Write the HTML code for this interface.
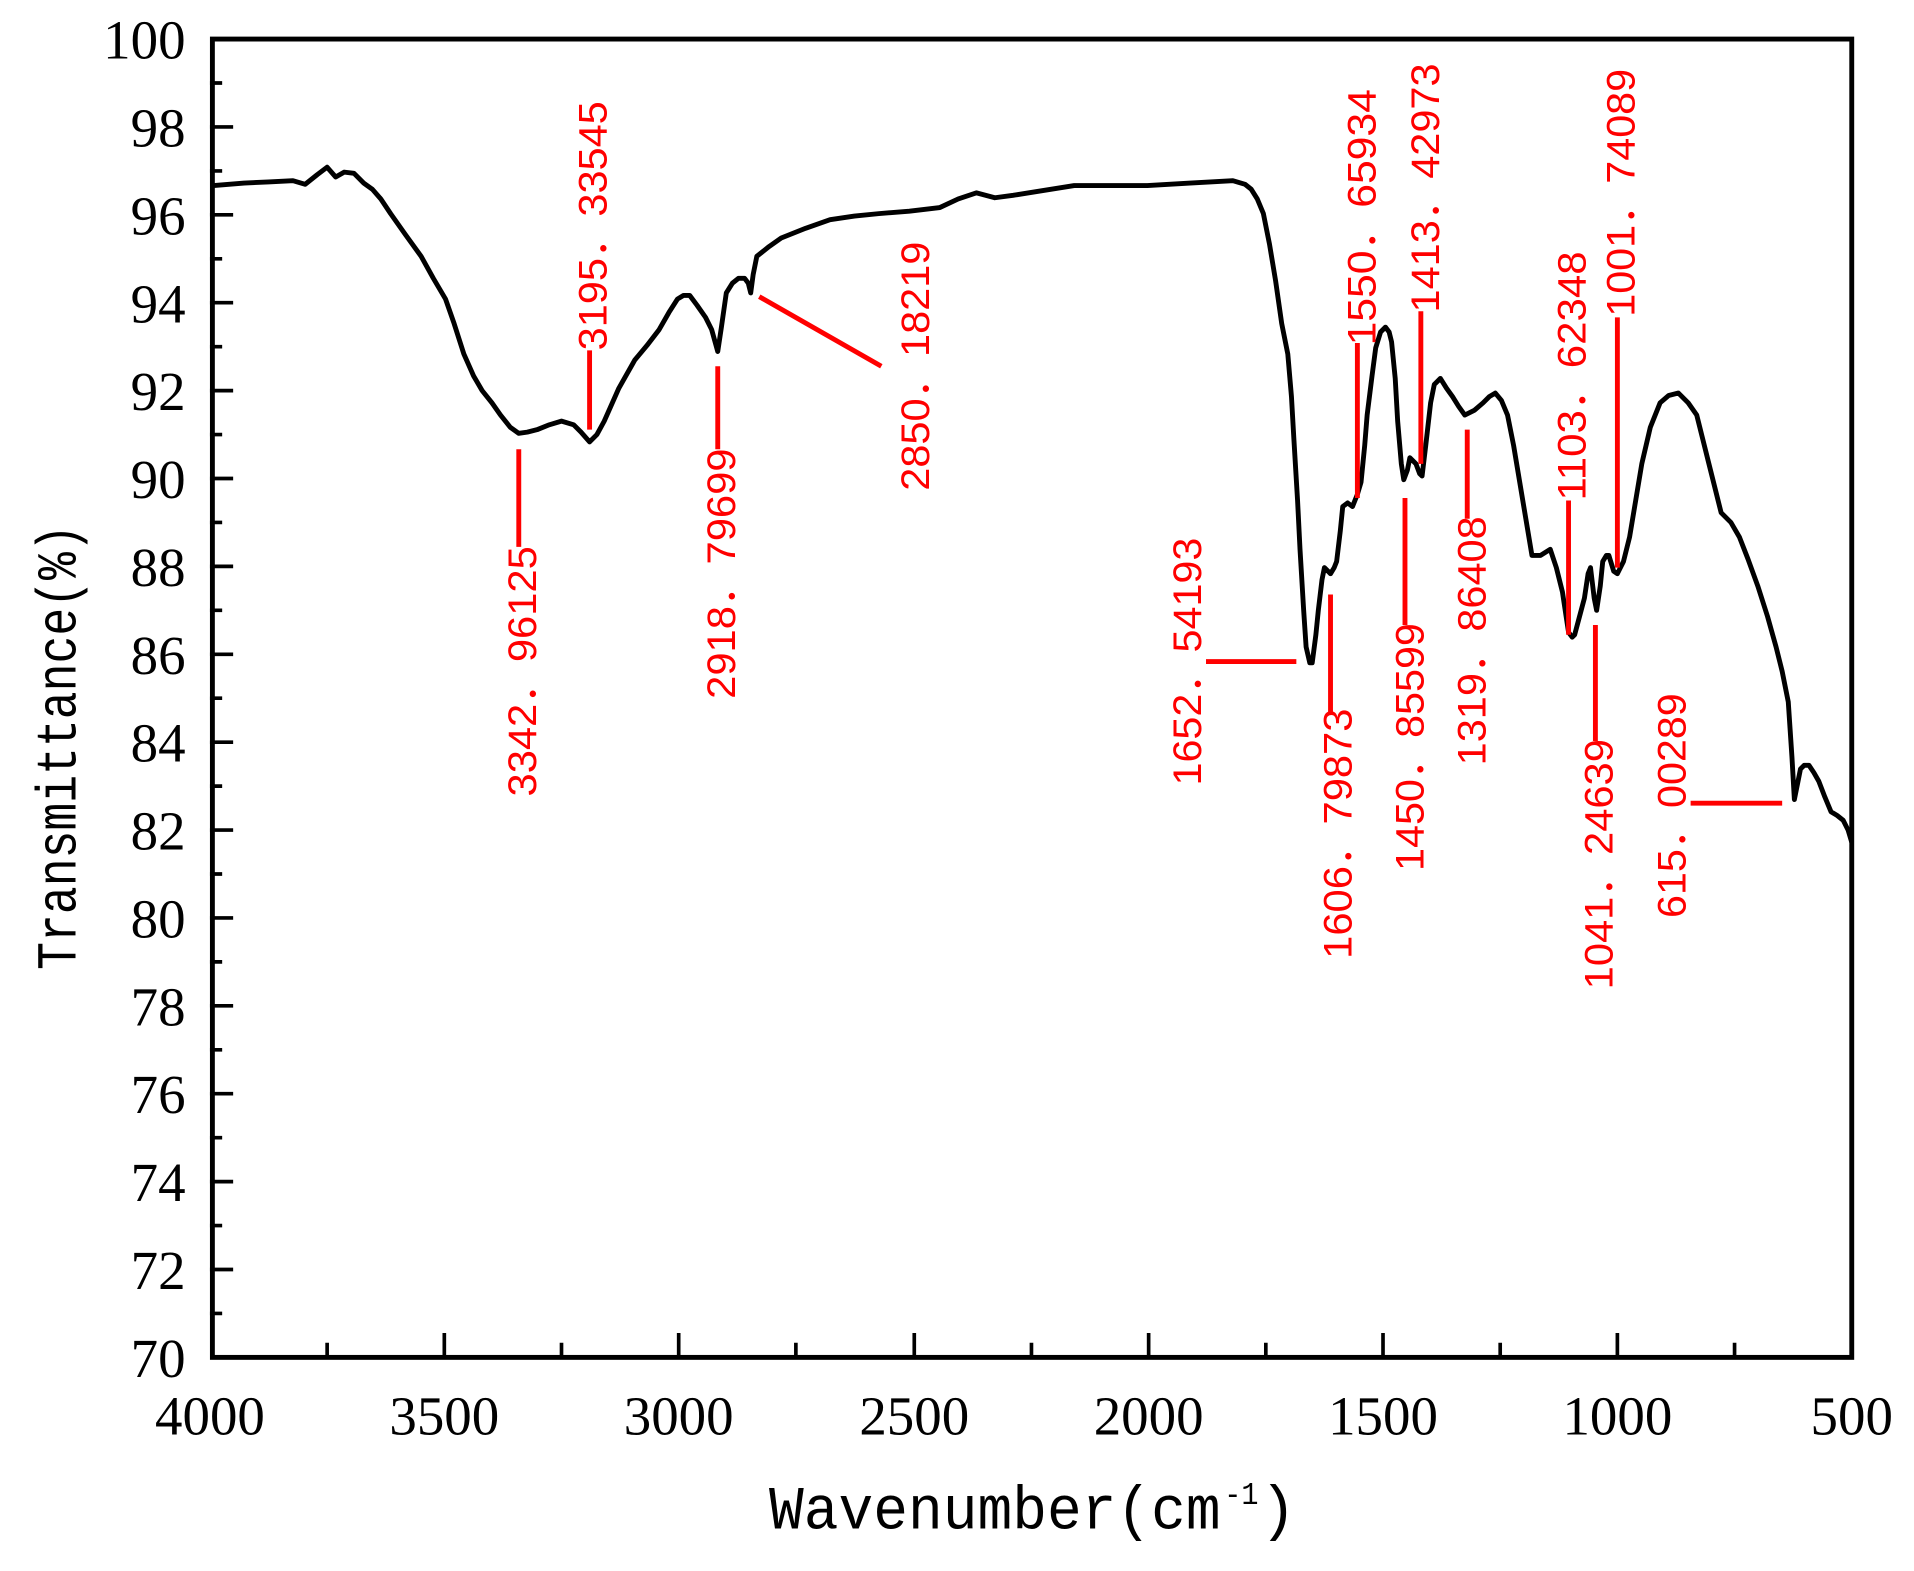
<!DOCTYPE html>
<html><head><meta charset="utf-8"><style>html,body{margin:0;padding:0;background:#fff}svg{display:block}</style></head>
<body>
<svg width="1914" height="1571" viewBox="0 0 1568 1287" preserveAspectRatio="none" xmlns="http://www.w3.org/2000/svg">
<rect width="1568" height="1287" fill="#fff"/>
<g stroke="#000" stroke-width="3">
<path d="M172 68H182M172 140H182M172 212H182M172 284H182M172 356H182M172 428H182M172 500H182M172 572H182M172 644H182M172 716H182M172 788H182M172 860H182M172 932H182M172 1004H182M172 1076H182"/>
<path d="M172 104H191M172 176H191M172 248H191M172 320H191M172 392H191M172 464H191M172 536H191M172 608H191M172 680H191M172 752H191M172 824H191M172 896H191M172 968H191M172 1040H191"/>
<path d="M364 1112V1092M556 1112V1092M749 1112V1092M941 1112V1092M1133 1112V1092M1325 1112V1092"/>
<path d="M268 1112V1100M460 1112V1100M652 1112V1100M845 1112V1100M1037 1112V1100M1229 1112V1100M1421 1112V1100"/>
</g>
<rect x="174" y="32" width="1343" height="1080" fill="none" stroke="#000" stroke-width="4"/>
<g font-family="Liberation Serif, serif" font-size="45" fill="#000" text-anchor="end">
<text x="152" y="48">100</text><text x="152" y="120">98</text><text x="152" y="192">96</text><text x="152" y="264">94</text><text x="152" y="336">92</text><text x="152" y="408">90</text><text x="152" y="480">88</text><text x="152" y="552">86</text><text x="152" y="624">84</text><text x="152" y="696">82</text><text x="152" y="768">80</text><text x="152" y="840">78</text><text x="152" y="912">76</text><text x="152" y="984">74</text><text x="152" y="1056">72</text><text x="152" y="1128">70</text>
</g>
<g font-family="Liberation Serif, serif" font-size="45" fill="#000" text-anchor="middle">
<text x="172" y="1175">4000</text><text x="364" y="1175">3500</text><text x="556" y="1175">3000</text><text x="749" y="1175">2500</text><text x="941" y="1175">2000</text><text x="1133" y="1175">1500</text><text x="1325" y="1175">1000</text><text x="1517" y="1175">500</text>
</g>
<text x="630" y="1252" font-family="Liberation Mono, monospace" font-size="50" textLength="370" lengthAdjust="spacingAndGlyphs">Wavenumber(cm</text>
<text x="1003" y="1232" font-family="Liberation Mono, monospace" font-size="26" textLength="28" lengthAdjust="spacingAndGlyphs">-1</text>
<text x="1032" y="1252" font-family="Liberation Mono, monospace" font-size="50">)</text>
<text transform="translate(62 612) rotate(-90)" text-anchor="middle" font-family="Liberation Mono, monospace" font-size="46" textLength="365" lengthAdjust="spacingAndGlyphs">Transmittance(%)</text>
<polyline fill="none" stroke="#000" stroke-width="4" stroke-linejoin="round" points="175,152 200,150 220,149 240,148 250,151 260,143 268,137 275,145 282,141 290,142 298,150 305,155 312,163 320,175 332,192 345,210 355,228 365,245 372,265 380,290 388,308 395,320 403,330 410,340 418,350 425,355 432,354 440,352 450,348 460,345 470,348 476,354 483,362 489,356 495,345 507,318 520,295 530,283 540,270 548,256 555,245 560,242 565,242 571,250 578,260 583,270 588,288 591,268 595,240 600,232 605,228 610,228 613,232 615,240 617,225 620,210 630,202 640,195 660,187 680,180 700,177 720,175 745,173 770,170 785,163 800,158 815,162 830,160 855,156 880,152 910,152 940,152 975,150 1010,148 1020,151 1025,155 1030,163 1035,175 1040,200 1045,230 1050,265 1055,290 1058,325 1060,360 1063,410 1065,450 1068,500 1070,530 1073,543 1075,543 1078,520 1080,500 1083,475 1085,465 1088,468 1090,470 1093,465 1095,460 1098,435 1100,415 1104,412 1108,415 1112,405 1115,395 1118,365 1120,340 1124,308 1127,285 1131,272 1135,268 1138,272 1140,280 1143,310 1145,345 1148,380 1150,393 1153,385 1155,375 1158,378 1160,380 1163,388 1165,390 1168,365 1172,330 1175,315 1180,310 1185,318 1190,325 1195,333 1200,340 1208,336 1215,330 1220,325 1225,322 1230,328 1235,340 1240,365 1245,395 1250,425 1255,455 1262,455 1270,450 1275,465 1280,485 1283,505 1285,518 1288,522 1290,520 1294,505 1298,490 1301,470 1303,465 1306,490 1308,500 1311,480 1313,460 1316,455 1318,455 1322,468 1325,470 1330,460 1335,440 1340,410 1345,380 1352,350 1360,330 1367,324 1375,322 1383,330 1390,340 1395,360 1400,380 1405,400 1410,420 1418,428 1425,440 1432,458 1440,480 1448,505 1455,530 1460,550 1465,575 1468,620 1470,655 1473,640 1475,630 1478,627 1482,627 1486,633 1490,640 1495,653 1500,665 1505,668 1510,672 1514,680 1517,690"/>
<g stroke="#f00" stroke-width="4" fill="none">
<path d="M425 368V448M483 287V352M588 300V368M622 243L722 300M988 542H1062M1090 487V585M1112 281V408M1151 408V512M1164 255V380M1202 352V425M1285 410V520M1325 260V465M1307 512V607M1385 658H1460"/>
</g>
<g font-family="Liberation Sans, 'Noto Sans CJK SC', sans-serif" font-size="33" fill="#f00" text-anchor="middle">
<text transform="translate(439 550) rotate(-90)" textLength="205" lengthAdjust="spacingAndGlyphs">3342．96125</text>
<text transform="translate(497 185) rotate(-90)" textLength="204" lengthAdjust="spacingAndGlyphs">3195．33545</text>
<text transform="translate(602 470) rotate(-90)" textLength="205" lengthAdjust="spacingAndGlyphs">2918．79699</text>
<text transform="translate(761 300) rotate(-90)" textLength="204" lengthAdjust="spacingAndGlyphs">2850．18219</text>
<text transform="translate(984 542) rotate(-90)" textLength="203" lengthAdjust="spacingAndGlyphs">1652．54193</text>
<text transform="translate(1107 683) rotate(-90)" textLength="205" lengthAdjust="spacingAndGlyphs">1606．79873</text>
<text transform="translate(1127 178) rotate(-90)" textLength="210" lengthAdjust="spacingAndGlyphs">1550．65934</text>
<text transform="translate(1166 612) rotate(-90)" textLength="203" lengthAdjust="spacingAndGlyphs">1450．85599</text>
<text transform="translate(1179 154) rotate(-90)" textLength="204" lengthAdjust="spacingAndGlyphs">1413．42973</text>
<text transform="translate(1217 525) rotate(-90)" textLength="204" lengthAdjust="spacingAndGlyphs">1319．86408</text>
<text transform="translate(1299 308) rotate(-90)" textLength="204" lengthAdjust="spacingAndGlyphs">1103．62348</text>
<text transform="translate(1339 158) rotate(-90)" textLength="203" lengthAdjust="spacingAndGlyphs">1001．74089</text>
<text transform="translate(1321 708) rotate(-90)" textLength="205" lengthAdjust="spacingAndGlyphs">1041．24639</text>
<text transform="translate(1381 660) rotate(-90)" textLength="184" lengthAdjust="spacingAndGlyphs">615．00289</text>
</g>
</svg>
</body></html>
